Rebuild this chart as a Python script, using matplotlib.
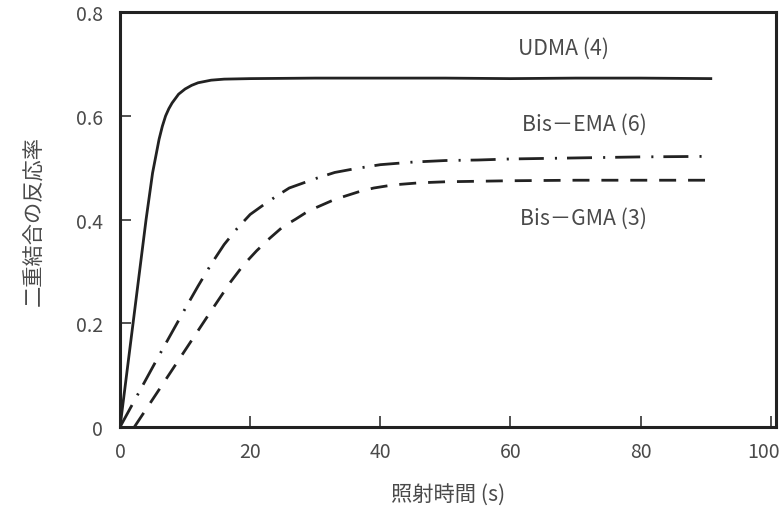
import matplotlib
matplotlib.use("Agg")
import matplotlib.pyplot as plt
from matplotlib.transforms import ScaledTranslation

plt.rcParams['font.family'] = ['Noto Sans CJK JP', 'DejaVu Sans']
plt.rcParams['lines.scale_dashes'] = False

# UDMA (4)
udma_x = [0, 1, 2, 3, 4, 5, 6, 6.5, 7, 7.5, 8, 9, 10, 11, 12, 14, 16, 20, 30, 40, 50, 60, 70, 80, 91]
udma_y = [0, 0.10, 0.20, 0.30, 0.40, 0.49, 0.555, 0.58, 0.60, 0.614, 0.625, 0.642, 0.652, 0.659,
          0.664, 0.669, 0.671, 0.672, 0.673, 0.673, 0.673, 0.672, 0.673, 0.673, 0.672]

# Bis-EMA (6)
ema_x = [0, 2, 4, 6, 8, 10, 12, 14, 16, 18, 20, 22, 24, 26, 28, 30, 33, 36, 40, 45, 50, 55, 60, 70, 80, 90]
ema_y = [0, 0.046, 0.092, 0.138, 0.183, 0.228, 0.272, 0.314, 0.352, 0.383, 0.41, 0.428, 0.445,
         0.461, 0.470, 0.479, 0.491, 0.498, 0.506, 0.511, 0.514, 0.515, 0.517, 0.519, 0.521, 0.522]

# Bis-GMA (3)
gma_x = [2.2, 6, 10, 14, 17, 19, 21, 23, 25, 27, 29, 31, 33, 35, 37, 39, 42, 46, 50, 55, 60, 70, 80, 90]
gma_y = [0, 0.072, 0.148, 0.224, 0.280, 0.313, 0.340, 0.364, 0.386, 0.401, 0.417, 0.428, 0.439,
         0.447, 0.455, 0.461, 0.467, 0.471, 0.473, 0.474, 0.475, 0.476, 0.476, 0.476]

labels = ["UDMA (4)", "Bis－EMA (6)", "Bis－GMA (3)"]
label_pos = [(68.1, 0.731), (71.4, 0.585), (71.2, 0.403)]

xticks = [0, 20, 40, 60, 80, 100]
yticks = [0, 0.2, 0.4, 0.6, 0.8]
ytick_labels = ["0", "0.2", "0.4", "0.6", "0.8"]

text_color = "#4a4a4a"
line_color = "#222222"

fig = plt.figure(figsize=(7.83, 5.10), dpi=100)
ax = fig.add_axes([0.1533, 0.1608, 0.991 - 0.1533, 0.974 - 0.1608])

ax.plot(udma_x, udma_y, color=line_color, lw=2.0, solid_capstyle='butt')
ax.plot(ema_x, ema_y, color=line_color, lw=2.0, linestyle=(0, (18, 8, 1.5, 7.2)), dash_capstyle='butt')
ax.plot(gma_x, gma_y, color=line_color, lw=2.0, linestyle=(0, (12.2, 8.6)), dash_capstyle='butt')

for t, (x, y) in zip(labels, label_pos):
    ax.text(x, y, t, ha='center', va='center', fontsize=15.3, color=text_color)

ax.set_xlim(0, 100.8)
ax.set_ylim(0, 0.8)
ax.set_xticks(xticks)
ax.set_yticks(yticks)
ax.set_yticklabels(ytick_labels)

for s in ax.spines.values():
    s.set_linewidth(2.2)
    s.set_color(line_color)

ax.tick_params(direction='in', length=8, width=1.1, color=line_color,
               labelsize=14, labelcolor=text_color, pad=10)
ax.tick_params(axis='y', pad=12)

# shift the last x tick label left so it stays inside the figure
last = ax.get_xticklabels()[-1]
last.set_transform(last.get_transform() + ScaledTranslation(-7 / 100, 0, fig.dpi_scale_trans))

ax.set_xlabel("照射時間 (s)", fontsize=15.3, color=text_color, labelpad=16)
ax.set_ylabel("二重結合の反応率", fontsize=15.3, color=text_color, labelpad=22)

fig.savefig("out.png", dpi=100)
